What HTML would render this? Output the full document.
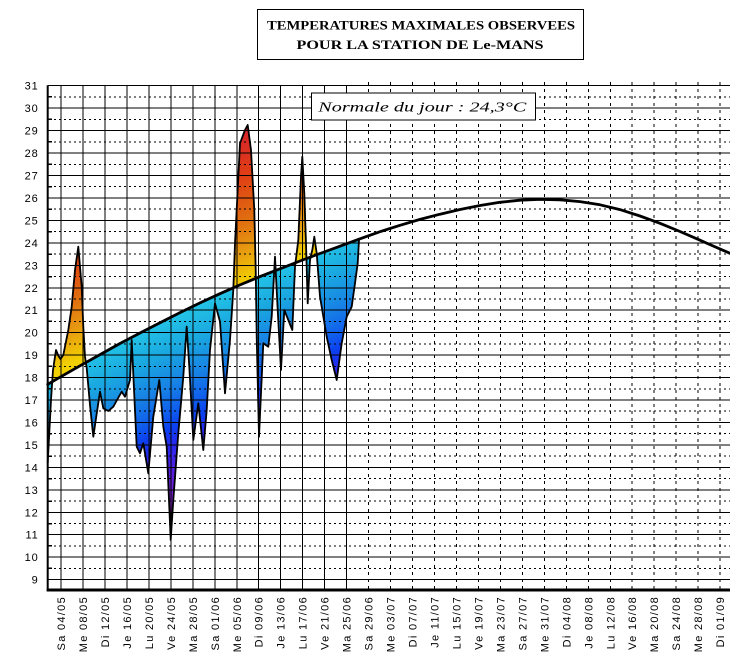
<!DOCTYPE html>
<html>
<head>
<meta charset="utf-8">
<style>
html,body{margin:0;padding:0;background:#fff;}
svg{display:block;}
.yl{font-family:"Liberation Sans",sans-serif;font-size:11px;letter-spacing:0.8px;fill:#000;}
.xl{font-family:"Liberation Sans",sans-serif;font-size:11px;letter-spacing:1.3px;fill:#000;}
</style>
</head>
<body>
<svg width="730" height="665" viewBox="0 0 730 665" xmlns="http://www.w3.org/2000/svg">
<defs>
  <linearGradient id="cool" gradientUnits="userSpaceOnUse" x1="200" y1="302.9" x2="286" y2="486">
    <stop offset="0" stop-color="#24c4e6"/>
    <stop offset="0.15" stop-color="#1aa8e0"/>
    <stop offset="0.3" stop-color="#1884e4"/>
    <stop offset="0.42" stop-color="#1060ec"/>
    <stop offset="0.5" stop-color="#0c40f0"/>
    <stop offset="0.58" stop-color="#2828f0"/>
    <stop offset="0.68" stop-color="#5020e0"/>
    <stop offset="0.8" stop-color="#7a20d4"/>
    <stop offset="0.9" stop-color="#8c20c8"/>
    <stop offset="1" stop-color="#9a22c0"/>
  </linearGradient>
  <linearGradient id="warm" gradientUnits="userSpaceOnUse" x1="240" y1="284.9" x2="154" y2="101">
    <stop offset="0" stop-color="#f2d000"/>
    <stop offset="0.13" stop-color="#e8a010"/>
    <stop offset="0.27" stop-color="#e07010"/>
    <stop offset="0.47" stop-color="#e04014"/>
    <stop offset="0.65" stop-color="#d82828"/>
    <stop offset="1" stop-color="#d0202c"/>
  </linearGradient>
  <clipPath id="above">
    <path d="M40,388.5 L47.7,384.3 L60,377.2 L80,365.8 L100,354.6 L120,343.5 L140,333 L160,322.7 L180,312.6 L200,302.9 L220,293.7 L240,284.9 L260,276.6 L280,268.8 L300,261 L320,253.5 L340,246.2 L360,238.8 L380,231.7 L380,0 L40,0 Z"/>
  </clipPath>
  <clipPath id="below">
    <path d="M40,388.5 L47.7,384.3 L60,377.2 L80,365.8 L100,354.6 L120,343.5 L140,333 L160,322.7 L180,312.6 L200,302.9 L220,293.7 L240,284.9 L260,276.6 L280,268.8 L300,261 L320,253.5 L340,246.2 L360,238.8 L380,231.7 L380,665 L40,665 Z"/>
  </clipPath>
</defs>

<rect x="0" y="0" width="730" height="665" fill="#fff"/>

<!-- fills -->
<g fill-rule="evenodd">
  <path clip-path="url(#below)" fill="url(#cool)" d="M47.7,463 L51,400 L53,370 L56,350 L58.5,356 L60.5,359 L63.3,355 L68.3,330 L71.7,306.7 L75,270 L78.3,246.7 L81.7,286.7 L83.3,326.7 L85,356.7 L86.7,368 L90,405 L93.3,436.7 L96.5,415 L100,391.7 L103.3,408.3 L108.3,411 L113.3,406.7 L117,400 L121.7,391.7 L125,396.7 L130,380 L131.7,340 L136.7,446.7 L140,453.3 L143.3,443.3 L148.3,473.3 L153.3,416.7 L159.3,380 L163.3,426.7 L166.7,446.7 L170.7,540 L173.3,500 L178.3,433.3 L183.3,376.7 L186.7,326.7 L189.3,366.7 L191.7,410 L193.3,440 L198.3,403.3 L203.3,450 L206.7,410 L210,350 L215,303.3 L220,321.7 L225,393.3 L230,340 L233.3,290 L235,243.3 L240,143.3 L245,130 L247.7,125 L251,150 L254.3,210 L255.7,270 L256.7,336.7 L259,436.7 L263.3,343.3 L268.3,346.7 L271.7,316.7 L275,256.7 L277.7,310 L281,370 L284.3,310 L288.3,320 L292.3,330 L295,266.7 L298.3,240 L301,176.7 L302.3,156.7 L304.3,193.3 L306,243.3 L307.7,303.3 L310,260 L312.3,250 L314.3,236.7 L316.7,253.3 L320,296.7 L326.7,336.7 L331.7,360 L336.7,380 L341.7,343.3 L346.7,316.7 L351.7,306.7 L355,283.3 L357.7,263.3 L359,240 L359,239.2 L340,246.2 L320,253.5 L300,261 L280,268.8 L260,276.6 L240,284.9 L220,293.7 L200,302.9 L180,312.6 L160,322.7 L140,333 L120,343.5 L100,354.6 L80,365.8 L60,377.2 L47.7,384.3 Z"/>
  <path clip-path="url(#above)" fill="url(#warm)" d="M47.7,463 L51,400 L53,370 L56,350 L58.5,356 L60.5,359 L63.3,355 L68.3,330 L71.7,306.7 L75,270 L78.3,246.7 L81.7,286.7 L83.3,326.7 L85,356.7 L86.7,368 L90,405 L93.3,436.7 L96.5,415 L100,391.7 L103.3,408.3 L108.3,411 L113.3,406.7 L117,400 L121.7,391.7 L125,396.7 L130,380 L131.7,340 L136.7,446.7 L140,453.3 L143.3,443.3 L148.3,473.3 L153.3,416.7 L159.3,380 L163.3,426.7 L166.7,446.7 L170.7,540 L173.3,500 L178.3,433.3 L183.3,376.7 L186.7,326.7 L189.3,366.7 L191.7,410 L193.3,440 L198.3,403.3 L203.3,450 L206.7,410 L210,350 L215,303.3 L220,321.7 L225,393.3 L230,340 L233.3,290 L235,243.3 L240,143.3 L245,130 L247.7,125 L251,150 L254.3,210 L255.7,270 L256.7,336.7 L259,436.7 L263.3,343.3 L268.3,346.7 L271.7,316.7 L275,256.7 L277.7,310 L281,370 L284.3,310 L288.3,320 L292.3,330 L295,266.7 L298.3,240 L301,176.7 L302.3,156.7 L304.3,193.3 L306,243.3 L307.7,303.3 L310,260 L312.3,250 L314.3,236.7 L316.7,253.3 L320,296.7 L326.7,336.7 L331.7,360 L336.7,380 L341.7,343.3 L346.7,316.7 L351.7,306.7 L355,283.3 L357.7,263.3 L359,240 L359,239.2 L340,246.2 L320,253.5 L300,261 L280,268.8 L260,276.6 L240,284.9 L220,293.7 L200,302.9 L180,312.6 L160,322.7 L140,333 L120,343.5 L100,354.6 L80,365.8 L60,377.2 L47.7,384.3 Z"/>
</g>

<!-- grid -->
<g stroke="#000" stroke-width="1" fill="none" shape-rendering="crispEdges">
  <path d="M48 85.7H730 M48 108.15H730 M48 130.6H730 M48 153.05H730 M48 175.5H730 M48 197.95H730 M48 220.4H730 M48 242.85H730 M48 265.3H730 M48 287.75H730 M48 310.2H730 M48 332.65H730 M48 355.1H730 M48 377.55H730 M48 400H730 M48 422.45H730 M48 444.9H730 M48 467.35H730 M48 489.8H730 M48 512.25H730 M48 534.7H730 M48 557.15H730 M48 579.6H730"/>
  <path stroke-width="1.5" d="M48 96.9H52 M48 119.4H52 M48 141.8H52 M48 164.3H52 M48 186.7H52 M48 209.2H52 M48 231.6H52 M48 254.1H52 M48 276.5H52 M48 299H52 M48 321.4H52 M48 343.9H52 M48 366.3H52 M48 388.8H52 M48 411.2H52 M48 433.7H52 M48 456.1H52 M48 478.6H52 M48 501H52 M48 523.5H52 M48 545.9H52 M48 568.4H52"/>
  <path stroke-dasharray="2 3" d="M54 96.9H730 M54 119.4H730 M54 141.8H730 M54 164.3H730 M54 186.7H730 M54 209.2H730 M54 231.6H730 M54 254.1H730 M54 276.5H730 M54 299H730 M54 321.4H730 M54 343.9H730 M54 366.3H730 M54 388.8H730 M54 411.2H730 M54 433.7H730 M54 456.1H730 M54 478.6H730 M54 501H730 M54 523.5H730 M54 545.9H730 M54 568.4H730"/>
  <path d="M61 85.7V590 M82.97 85.7V590 M104.94 85.7V590 M126.91 85.7V590 M148.88 85.7V590 M170.85 85.7V590 M192.82 85.7V590 M214.79 85.7V590 M236.76 85.7V590 M258.73 85.7V590 M280.7 85.7V590 M302.67 85.7V590 M324.64 85.7V590 M346.61 85.7V590"/>
  <path stroke-dasharray="3 4" d="M368.58 82V590 M390.55 82V590 M412.52 82V590 M434.49 82V590 M456.46 82V590 M478.43 82V590 M500.4 82V590 M522.37 82V590 M544.34 82V590 M566.31 82V590 M588.28 82V590 M610.25 82V590 M632.22 82V590 M654.19 82V590 M676.16 82V590 M698.13 82V590 M720.1 82V590"/>
</g>

<!-- observed outline -->
<path fill="none" stroke="#000" stroke-width="1.8" stroke-linejoin="round" d="M47.7,463 L51,400 L53,370 L56,350 L58.5,356 L60.5,359 L63.3,355 L68.3,330 L71.7,306.7 L75,270 L78.3,246.7 L81.7,286.7 L83.3,326.7 L85,356.7 L86.7,368 L90,405 L93.3,436.7 L96.5,415 L100,391.7 L103.3,408.3 L108.3,411 L113.3,406.7 L117,400 L121.7,391.7 L125,396.7 L130,380 L131.7,340 L136.7,446.7 L140,453.3 L143.3,443.3 L148.3,473.3 L153.3,416.7 L159.3,380 L163.3,426.7 L166.7,446.7 L170.7,540 L173.3,500 L178.3,433.3 L183.3,376.7 L186.7,326.7 L189.3,366.7 L191.7,410 L193.3,440 L198.3,403.3 L203.3,450 L206.7,410 L210,350 L215,303.3 L220,321.7 L225,393.3 L230,340 L233.3,290 L235,243.3 L240,143.3 L245,130 L247.7,125 L251,150 L254.3,210 L255.7,270 L256.7,336.7 L259,436.7 L263.3,343.3 L268.3,346.7 L271.7,316.7 L275,256.7 L277.7,310 L281,370 L284.3,310 L288.3,320 L292.3,330 L295,266.7 L298.3,240 L301,176.7 L302.3,156.7 L304.3,193.3 L306,243.3 L307.7,303.3 L310,260 L312.3,250 L314.3,236.7 L316.7,253.3 L320,296.7 L326.7,336.7 L331.7,360 L336.7,380 L341.7,343.3 L346.7,316.7 L351.7,306.7 L355,283.3 L357.7,263.3 L359,240"/>

<!-- normal curve -->
<path fill="none" stroke="#000" stroke-width="2.8" stroke-linejoin="round" stroke-linecap="round" d="M47.7,384.3 L60,377.2 L80,365.8 L100,354.6 L120,343.5 L140,333 L160,322.7 L180,312.6 L200,302.9 L220,293.7 L240,284.9 L260,276.6 L280,268.8 L300,261 L320,253.5 L340,246.2 L360,238.8 L380,231.7 L400,225.3 L420,219.4 L440,214.2 L460,209.5 L480,205.5 L500,202.3 L520,200.2 L540,199.3 L560,199.8 L580,201.6 L600,204.8 L620,209.6 L640,216 L660,223.3 L680,231.5 L700,240.2 L710,244.6 L730,253.3"/>

<!-- axes -->
<line x1="47.7" y1="85.2" x2="47.7" y2="591.5" stroke="#000" stroke-width="2"/>
<line x1="46.7" y1="590" x2="730" y2="590" stroke="#000" stroke-width="3"/>

<!-- y labels -->
<g class="yl" text-anchor="end">
  <text x="38.5" y="89.7">31</text>
  <text x="38.5" y="112.15">30</text>
  <text x="38.5" y="134.6">29</text>
  <text x="38.5" y="157.05">28</text>
  <text x="38.5" y="179.5">27</text>
  <text x="38.5" y="201.95">26</text>
  <text x="38.5" y="224.4">25</text>
  <text x="38.5" y="246.85">24</text>
  <text x="38.5" y="269.3">23</text>
  <text x="38.5" y="291.75">22</text>
  <text x="38.5" y="314.2">21</text>
  <text x="38.5" y="336.65">20</text>
  <text x="38.5" y="359.1">19</text>
  <text x="38.5" y="381.55">18</text>
  <text x="38.5" y="404">17</text>
  <text x="38.5" y="426.45">16</text>
  <text x="38.5" y="448.9">15</text>
  <text x="38.5" y="471.35">14</text>
  <text x="38.5" y="493.8">13</text>
  <text x="38.5" y="516.25">12</text>
  <text x="38.5" y="538.7">11</text>
  <text x="38.5" y="561.15">10</text>
  <text x="38.5" y="583.6">9</text>
</g>

<!-- x labels -->
<g class="xl" text-anchor="end">
  <text transform="translate(65,596) rotate(-90)">Sa 04/05</text>
  <text transform="translate(86.97,596) rotate(-90)">Me 08/05</text>
  <text transform="translate(108.94,596) rotate(-90)">Di 12/05</text>
  <text transform="translate(130.91,596) rotate(-90)">Je 16/05</text>
  <text transform="translate(152.88,596) rotate(-90)">Lu 20/05</text>
  <text transform="translate(174.85,596) rotate(-90)">Ve 24/05</text>
  <text transform="translate(196.82,596) rotate(-90)">Ma 28/05</text>
  <text transform="translate(218.79,596) rotate(-90)">Sa 01/06</text>
  <text transform="translate(240.76,596) rotate(-90)">Me 05/06</text>
  <text transform="translate(262.73,596) rotate(-90)">Di 09/06</text>
  <text transform="translate(284.7,596) rotate(-90)">Je 13/06</text>
  <text transform="translate(306.67,596) rotate(-90)">Lu 17/06</text>
  <text transform="translate(328.64,596) rotate(-90)">Ve 21/06</text>
  <text transform="translate(350.61,596) rotate(-90)">Ma 25/06</text>
  <text transform="translate(372.58,596) rotate(-90)">Sa 29/06</text>
  <text transform="translate(394.55,596) rotate(-90)">Me 03/07</text>
  <text transform="translate(416.52,596) rotate(-90)">Di 07/07</text>
  <text transform="translate(438.49,596) rotate(-90)">Je 11/07</text>
  <text transform="translate(460.46,596) rotate(-90)">Lu 15/07</text>
  <text transform="translate(482.43,596) rotate(-90)">Ve 19/07</text>
  <text transform="translate(504.4,596) rotate(-90)">Ma 23/07</text>
  <text transform="translate(526.37,596) rotate(-90)">Sa 27/07</text>
  <text transform="translate(548.34,596) rotate(-90)">Me 31/07</text>
  <text transform="translate(570.31,596) rotate(-90)">Di 04/08</text>
  <text transform="translate(592.28,596) rotate(-90)">Je 08/08</text>
  <text transform="translate(614.25,596) rotate(-90)">Lu 12/08</text>
  <text transform="translate(636.22,596) rotate(-90)">Ve 16/08</text>
  <text transform="translate(658.19,596) rotate(-90)">Ma 20/08</text>
  <text transform="translate(680.16,596) rotate(-90)">Sa 24/08</text>
  <text transform="translate(702.13,596) rotate(-90)">Me 28/08</text>
  <text transform="translate(724.1,596) rotate(-90)">Di 01/09</text>
</g>

<!-- title box -->
<rect x="257.5" y="9.5" width="326" height="50" fill="#fff" stroke="#000" stroke-width="1"/>
<g font-family="'Liberation Serif',serif" font-weight="bold" font-size="13" fill="#000" text-anchor="middle">
  <text x="421" y="29.3" textLength="308" lengthAdjust="spacingAndGlyphs">TEMPERATURES MAXIMALES OBSERVEES</text>
  <text x="420" y="49" textLength="247" lengthAdjust="spacingAndGlyphs">POUR LA STATION DE Le-MANS</text>
</g>

<!-- normale box -->
<rect x="311.5" y="93" width="224" height="27" fill="#fff" stroke="#000" stroke-width="1"/>
<text x="318.3" y="111.5" font-family="'Liberation Serif',serif" font-style="italic" font-size="14" fill="#000" textLength="208" lengthAdjust="spacingAndGlyphs">Normale du jour : 24,3°C</text>
</svg>
</body>
</html>
